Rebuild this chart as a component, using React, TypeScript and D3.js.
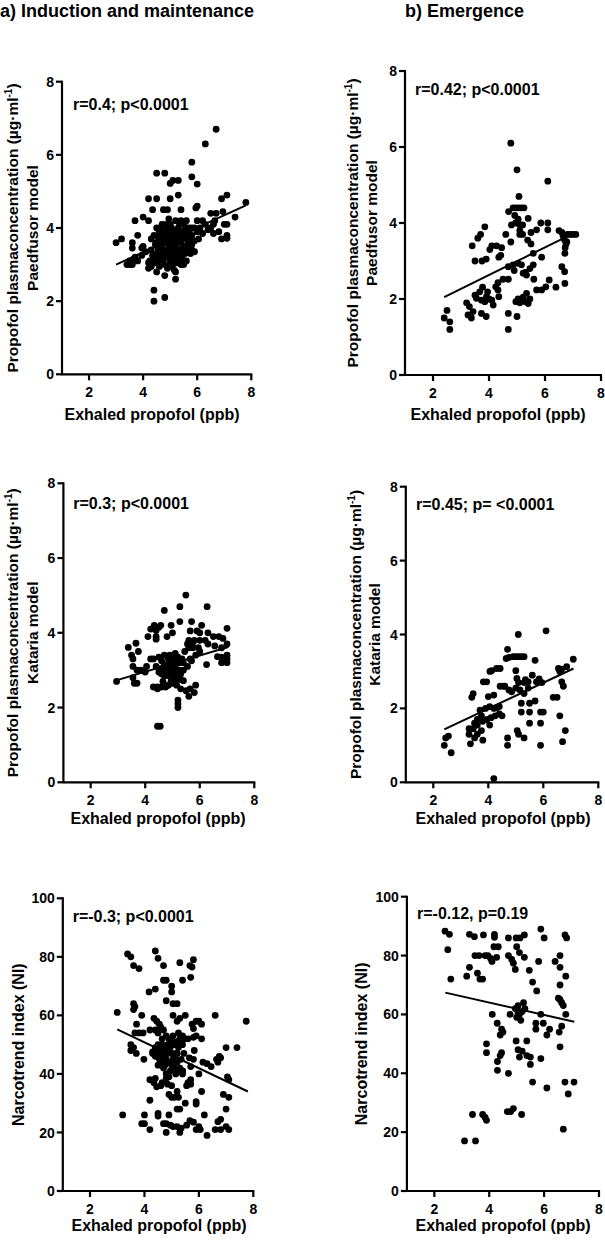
import React from 'react';
import * as d3 from 'd3';

// exhaled propofol (ppb) vs. plasma concentration / narcotrend index
const inductionPaedfusor = [
  [3.0, 3.6], [3.2, 3.7], [3.7, 4.2], [4.0, 4.3], [3.8, 3.8], [3.6, 3.6], [3.6, 3.45], [3.95, 3.45], [4.0, 3.5],
  [4.2, 4.8], [4.5, 4.8], [4.5, 5.5], [4.8, 5.5], [5.0, 5.22], [5.1, 5.3], [5.3, 5.3], [5.0, 4.8], [5.3, 4.9],
  [5.8, 5.8], [5.8, 5.4], [6.0, 5.2], [6.3, 6.3], [6.7, 6.7], [6.0, 4.6], [5.95, 4.55], [4.35, 4.5], [4.75, 4.5],
  [4.9, 4.5], [5.4, 4.5], [4.2, 4.2], [6.9, 4.8], [7.1, 4.9], [7.8, 4.7], [7.4, 4.3], [7.1, 4.1], [7.0, 4.1],
  [6.9, 3.7], [7.1, 3.8], [7.1, 3.72], [6.8, 3.9], [6.6, 4.1], [6.65, 4.2], [6.5, 4.4], [6.7, 4.4], [6.95, 4.45],
  [6.2, 4.2], [6.2, 3.85], [6.5, 4.0], [4.4, 2.3], [4.4, 2.0], [4.8, 2.1], [5.2, 2.6], [5.2, 2.8], [4.5, 2.8],
  [4.8, 2.7], [4.2, 2.9], [4.3, 2.95], [3.4, 3.0], [3.5, 3.0], [3.6, 3.0], [3.5, 3.1], [3.7, 3.2], [3.8, 3.1],
  [3.65, 3.15], [3.95, 3.25], [4.1, 3.35], [4.2, 3.05], [4.25, 3.1], [5.5, 3.0], [5.6, 3.1], [5.75, 3.3],
  [5.8, 3.4], [5.4, 3.0], [5.6, 3.4], [5.8, 3.55], [5.9, 3.35], [4.4, 3.2], [4.5, 3.3], [4.6, 3.1], [4.6, 3.5],
  [4.7, 3.3], [4.7, 3.7], [4.8, 3.0], [4.8, 3.4], [4.8, 3.9], [4.9, 3.2], [4.9, 3.6], [4.9, 4.0], [5.0, 3.1],
  [5.0, 3.5], [5.0, 3.8], [5.0, 4.1], [5.1, 3.0], [5.1, 3.3], [5.1, 3.7], [5.1, 3.95], [5.2, 3.2], [5.2, 3.5],
  [5.2, 3.9], [5.2, 4.2], [5.3, 3.1], [5.3, 3.4], [5.3, 3.8], [5.3, 4.0], [5.4, 3.3], [5.4, 3.6], [5.4, 3.9],
  [5.5, 3.5], [5.5, 3.8], [5.5, 4.1], [5.6, 3.7], [5.6, 4.0], [5.7, 3.9], [5.7, 4.0], [5.8, 3.8], [5.8, 4.0],
  [5.9, 4.0], [6.0, 3.9], [6.1, 4.0], [6.0, 4.2], [4.5, 3.6], [4.5, 4.0], [4.6, 3.9], [4.7, 4.1], [4.4, 3.8],
  [4.3, 3.4], [4.3, 3.7], [4.6, 2.95], [4.9, 2.9], [5.0, 2.95], [5.1, 3.6], [4.8, 3.6], [4.7, 3.45], [5.2, 3.65],
  [5.4, 4.2], [5.6, 4.2], [4.95, 4.25], [4.85, 4.1], [5.25, 3.35], [5.45, 3.15], [4.55, 3.45], [5.15, 2.85],
  [6.3, 4.1], [6.4, 3.95], [6.6, 3.85], [5.9, 3.65], [6.05, 3.7],
  [4.45, 3.05], [4.55, 3.15], [4.65, 3.25], [4.75, 3.15], [4.85, 3.25], [4.95, 3.35], [5.05, 3.25], [5.15, 3.15],
  [5.25, 3.05], [5.35, 3.25], [5.45, 3.45], [5.55, 3.3], [5.65, 3.55], [4.45, 3.55], [4.55, 3.75], [4.65, 3.65],
  [4.75, 3.85], [4.85, 3.75], [4.95, 3.85], [5.05, 3.65], [5.15, 3.85], [5.25, 3.75], [5.35, 3.65], [5.45, 3.75],
  [5.55, 3.95], [5.65, 3.85], [4.65, 4.0], [5.05, 4.0], [5.35, 4.1], [4.35, 3.25], [5.75, 3.7], [4.95, 3.45],
  [5.15, 3.45],
];
const inductionPaedfusorFit = [[3.0, 3.0], [7.8, 4.62]];

const emergencePaedfusor = [
  [4.78, 6.1], [5.0, 5.4], [6.1, 5.1], [5.07, 4.7], [4.7, 4.3], [4.86, 4.4], [4.95, 4.4], [5.05, 4.4], [5.15, 4.4],
  [5.25, 4.4], [4.92, 4.2], [5.04, 4.1], [5.4, 4.12], [4.8, 3.95], [4.95, 4.0], [5.1, 3.95], [3.85, 3.9], [5.85, 4.0],
  [6.1, 4.0], [6.1, 3.82], [5.7, 3.82], [5.5, 3.75], [5.38, 3.55], [5.2, 3.7], [5.1, 3.8], [5.1, 3.7], [4.6, 3.7],
  [4.78, 3.5], [3.7, 3.7], [3.6, 3.6], [3.4, 3.4], [4.1, 3.4], [4.27, 3.4], [4.45, 3.35], [4.03, 3.3], [4.35, 3.1],
  [4.42, 3.15], [3.5, 3.0], [3.75, 3.0], [3.9, 3.05], [5.58, 3.2], [5.88, 3.1], [6.5, 3.8], [6.6, 3.75],
  [6.65, 3.65], [6.7, 3.55], [6.75, 3.45], [6.72, 3.35], [6.71, 3.2], [6.8, 3.7], [6.9, 3.7], [7.0, 3.7],
  [7.1, 3.7], [6.78, 3.5], [6.6, 2.85], [6.7, 2.72], [6.71, 2.41], [6.39, 2.31], [6.03, 2.32], [6.15, 2.5],
  [5.7, 2.24], [5.88, 2.24], [5.6, 2.52], [5.34, 2.63], [5.46, 2.8], [5.58, 2.9], [5.22, 2.68], [5.16, 2.9],
  [5.04, 2.94], [4.86, 2.9], [4.69, 2.85], [4.69, 2.52], [4.5, 2.52], [4.32, 2.43], [4.24, 2.32], [4.32, 2.24],
  [3.95, 2.19], [3.91, 2.06], [3.77, 2.31], [3.67, 2.19], [3.5, 2.1], [3.55, 2.02], [3.73, 1.97], [3.85, 1.93],
  [4.15, 1.84], [4.1, 1.97], [3.2, 1.9], [3.3, 1.8], [3.43, 1.67], [3.25, 1.58], [3.37, 1.5], [3.73, 1.62],
  [3.9, 1.54], [4.69, 1.62], [5.0, 1.54], [4.69, 1.2], [2.4, 1.5], [2.5, 1.7], [2.6, 1.4], [2.6, 1.2],
  [4.96, 1.93], [5.04, 2.0], [5.1, 1.9], [5.22, 2.05], [5.34, 2.15], [5.46, 2.0], [5.3, 1.93], [5.4, 1.88],
  [4.35, 2.06], [4.0, 2.0], [5.3, 2.7], [5.5, 3.45], [5.2, 3.95], [4.9, 2.75],
];
const emergencePaedfusorFit = [[2.4, 2.05], [6.8, 3.65]];

const inductionKataria = [
  [5.49, 5.01], [5.27, 4.7], [6.27, 4.7], [4.7, 4.6], [5.27, 4.3], [5.7, 4.3], [4.33, 4.2], [4.57, 4.2], [4.4, 4.06],
  [4.95, 4.2], [5.0, 4.0], [4.1, 3.9], [4.4, 3.9], [4.4, 3.83], [4.8, 3.9], [5.65, 4.05], [5.9, 4.05], [6.0, 4.0],
  [6.07, 4.2], [5.6, 3.8], [5.8, 3.8], [6.0, 3.8], [6.2, 3.8], [6.3, 4.0], [6.5, 3.9], [6.7, 3.9], [6.85, 3.85],
  [7.0, 4.12], [3.38, 3.61], [3.66, 3.72], [3.75, 3.5], [5.6, 3.6], [5.75, 3.6], [5.95, 3.6], [6.3, 3.7],
  [6.55, 3.65], [6.8, 3.6], [7.0, 3.7], [7.0, 3.4], [6.8, 3.35], [7.0, 3.3], [6.8, 3.2], [7.0, 3.2], [6.65, 3.36],
  [3.5, 3.4], [3.55, 3.3], [4.3, 3.3], [4.5, 3.35], [4.6, 3.25], [4.7, 3.15], [4.8, 3.1], [4.9, 3.05], [5.0, 3.15],
  [5.1, 3.25], [5.2, 3.35], [5.25, 3.2], [5.0, 2.95], [5.15, 2.9], [4.85, 2.85], [5.05, 2.8], [4.7, 3.4],
  [4.9, 3.4], [5.1, 3.45], [3.55, 3.1], [3.7, 3.0], [3.85, 3.0], [4.0, 2.95], [4.5, 2.95], [4.05, 3.1], [4.2, 3.3],
  [2.95, 2.7], [3.55, 2.8], [3.6, 2.65], [3.7, 2.65], [4.3, 2.55], [4.45, 2.55], [4.6, 2.55], [4.75, 2.55],
  [4.85, 2.6], [5.0, 2.65], [5.0, 2.75], [5.15, 2.75], [5.3, 2.75], [5.4, 2.72], [5.3, 2.5], [5.5, 2.45],
  [5.65, 2.5], [5.85, 2.6], [5.6, 2.3], [5.8, 2.4], [5.2, 2.2], [5.2, 2.1], [5.2, 2.0], [4.45, 1.5], [4.55, 1.5],
  [5.4, 3.0], [5.55, 3.1], [5.7, 3.25], [5.85, 3.4], [6.0, 3.5], [5.65, 3.3], [5.45, 3.5], [5.55, 3.7],
  [5.75, 3.75], [4.2, 4.1], [4.5, 4.15], [5.4, 3.2], [6.25, 3.15], [4.45, 2.5],
  [4.6, 2.9], [4.7, 2.85], [4.8, 2.95], [4.9, 3.2], [5.0, 3.3], [5.1, 3.1], [4.75, 3.0], [5.1, 2.95],
  [4.95, 2.7], [4.65, 2.7], [5.25, 3.0], [5.35, 3.3], [4.85, 3.3], [4.4, 3.1], [4.6, 3.05], [5.15, 2.6], [5.3, 2.9],
];
const inductionKatariaFit = [[3.0, 2.74], [7.05, 3.62]];

const emergenceKataria = [
  [6.1, 4.1], [5.09, 4.0], [4.7, 3.6], [4.65, 3.35], [4.75, 3.38], [4.9, 3.4], [5.0, 3.4], [5.1, 3.4], [5.2, 3.4],
  [5.3, 3.4], [5.7, 3.3], [4.12, 3.02], [4.3, 3.08], [4.43, 3.08], [4.06, 3.0], [5.0, 3.02], [5.04, 2.81],
  [5.35, 2.78], [5.45, 2.72], [5.75, 2.72], [5.85, 2.8], [5.95, 2.7], [3.82, 2.72], [3.94, 2.72], [4.43, 2.6],
  [4.55, 2.6], [6.55, 3.08], [6.67, 3.06], [6.85, 3.13], [7.09, 3.33], [6.6, 3.0], [6.67, 2.72], [6.73, 2.6],
  [6.36, 2.3], [4.75, 2.5], [4.85, 2.45], [5.0, 2.55], [5.15, 2.5], [5.3, 2.4], [5.45, 2.55], [3.4, 2.3],
  [3.45, 2.4], [5.2, 2.14], [5.5, 2.14], [5.7, 2.2], [5.2, 1.9], [5.5, 1.9], [5.9, 1.9], [6.6, 1.8], [5.9, 1.6],
  [5.5, 1.6], [6.8, 1.4], [6.7, 1.1], [5.9, 1.0], [3.7, 1.95], [3.9, 2.0], [4.05, 2.05], [4.2, 2.0], [4.3, 2.02],
  [4.4, 2.05], [4.0, 2.32], [4.2, 2.36], [3.3, 1.45], [3.45, 1.45], [3.6, 1.55], [3.8, 1.65], [3.95, 1.7],
  [4.1, 1.75], [4.25, 1.8], [4.4, 1.85], [3.3, 1.3], [3.6, 1.3], [3.75, 1.4], [3.5, 1.6], [3.6, 1.7], [3.75, 1.8],
  [2.45, 1.2], [2.55, 1.25], [2.4, 1.0], [2.65, 0.8], [3.35, 1.04], [3.8, 1.14], [4.7, 1.2], [4.7, 1.0],
  [5.05, 1.4], [5.1, 1.3], [5.3, 1.2], [4.2, 0.1], [4.6, 2.6], [5.1, 2.7], [5.6, 2.9], [5.3, 2.7], [6.5, 2.3],
  [6.0, 1.9], [4.05, 1.55], [4.5, 1.8], [3.5, 1.2],
];
const emergenceKatariaFit = [[2.4, 1.43], [7.1, 3.08]];

const inductionNarcotrend = [
  [3.0, 61], [3.2, 26], [3.38, 81], [3.5, 80], [3.6, 77], [3.8, 76], [3.6, 64], [3.65, 63], [3.6, 62], [3.71, 57],
  [3.9, 60], [3.65, 54], [3.8, 54], [3.95, 54], [3.5, 50], [3.6, 49], [3.5, 48], [3.7, 47], [3.98, 45], [3.9, 23],
  [4.0, 23], [4.0, 26], [4.2, 21], [4.2, 31], [4.17, 68], [4.4, 69], [4.4, 82], [4.5, 79.5], [4.7, 77], [4.7, 72],
  [4.8, 72], [5.0, 70], [5.0, 68], [4.8, 65], [5.05, 64], [5.2, 64], [5.3, 78], [5.67, 77], [5.75, 76.5], [5.8, 79],
  [5.7, 73], [5.4, 72], [4.35, 59], [4.45, 58], [4.55, 57], [5.05, 60], [5.2, 58], [5.3, 59], [5.5, 60], [5.75, 57],
  [5.8, 55.5], [5.9, 58], [6.0, 58], [6.1, 57], [6.6, 60], [6.1, 52], [7.74, 58], [7.4, 49], [7.0, 49], [6.7, 44],
  [6.75, 46], [6.65, 45], [6.8, 45.5], [6.45, 42.5], [6.3, 43.5], [6.15, 44], [7.05, 39], [7.1, 38], [6.9, 33],
  [7.1, 32], [7.0, 28], [6.8, 24.5], [6.7, 23.7], [6.6, 21], [6.8, 21], [7.0, 22], [7.1, 21], [6.3, 19], [6.2, 26],
  [5.9, 30.5], [5.9, 29.7], [6.1, 34], [5.5, 30], [5.3, 28], [5.2, 28], [5.67, 24], [5.8, 23.5], [5.55, 22.5],
  [6.0, 22], [6.05, 21], [5.9, 21], [5.3, 20], [5.35, 21.5], [5.2, 22], [4.8, 20], [4.7, 23], [4.8, 23],
  [4.95, 22.5], [5.05, 22], [4.5, 26.5], [4.5, 25.6], [4.9, 26], [4.65, 37], [4.8, 38.5], [4.45, 35.6], [4.2, 38],
  [4.35, 37], [4.4, 38.5], [4.9, 33], [5.0, 36], [5.1, 32], [5.0, 32], [5.2, 34], [5.25, 32], [5.55, 36],
  [5.7, 38], [5.7, 36.5], [5.4, 40], [5.4, 41], [4.4, 55], [4.5, 54], [4.6, 56], [4.7, 55], [4.8, 53], [4.9, 52],
  [5.0, 51], [5.1, 50], [5.2, 51], [5.3, 52], [5.4, 50], [5.5, 52], [4.5, 50], [4.6, 48], [4.7, 46], [4.8, 45],
  [4.9, 44], [5.0, 43], [5.1, 42], [5.2, 44], [5.3, 42], [5.4, 41], [4.6, 44], [4.7, 42], [4.8, 40], [4.9, 39],
  [5.0, 47], [5.2, 47], [4.4, 46], [4.3, 47], [4.5, 43], [5.9, 53], [5.8, 52.5], [5.6, 52], [5.35, 51.5],
  [5.4, 53], [5.83, 48], [5.65, 45.5], [5.8, 45], [5.7, 42.5], [6.0, 40], [5.6, 37], [4.2, 55], [4.3, 47.5],
  [4.6, 36], [4.85, 36.5],
  [4.5, 47], [4.65, 50], [4.75, 48], [4.85, 47], [4.95, 49], [5.05, 45], [5.15, 47], [5.25, 49], [5.35, 45],
  [4.55, 45], [4.75, 43], [4.95, 41], [5.15, 40], [5.25, 41], [4.65, 52], [5.05, 53], [5.25, 54], [4.85, 50],
  [5.45, 47], [4.4, 49],
];
const inductionNarcotrendFit = [[3.0, 55.2], [7.8, 34.0]];

const emergenceNarcotrend = [
  [2.39, 88.3], [2.55, 87.2], [2.49, 82], [2.6, 72], [3.28, 87.2], [3.46, 86.4], [3.79, 87], [4.19, 87.2],
  [4.19, 86.2], [4.7, 86], [4.98, 86], [5.12, 86], [5.28, 87], [5.88, 89], [6.0, 86], [6.76, 87], [6.82, 86],
  [3.28, 76], [3.18, 73], [3.57, 74], [3.66, 72], [3.76, 72], [3.48, 80], [3.63, 80], [3.85, 80], [3.95, 80],
  [4.05, 79], [4.1, 78], [4.17, 83], [4.33, 83], [4.27, 79.4], [4.7, 80], [4.82, 78.7], [4.88, 77.4], [4.95, 75.3],
  [5.0, 83], [5.1, 81], [5.28, 79.4], [5.46, 75], [5.58, 71], [5.8, 78], [5.73, 68], [6.58, 80], [6.4, 78],
  [6.58, 76], [6.79, 73], [6.58, 70], [6.52, 65.5], [6.58, 65], [6.64, 64], [6.7, 63], [6.79, 60], [6.64, 56],
  [6.55, 54], [6.58, 49], [5.88, 60], [5.7, 57], [5.97, 57], [6.1, 53], [6.2, 55], [5.7, 55], [4.95, 62],
  [5.05, 63], [5.1, 60], [5.2, 61], [5.25, 64], [5.0, 59], [5.15, 58], [5.3, 62], [5.05, 60.5], [4.76, 60],
  [4.11, 60], [4.29, 57], [4.45, 55], [4.5, 54], [4.4, 53], [3.9, 50], [3.9, 47], [4.98, 51], [5.37, 51],
  [5.05, 48], [5.2, 47.5], [5.37, 46], [5.5, 45.5], [5.1, 45.5], [4.45, 47], [4.4, 46], [4.3, 44], [4.3, 41],
  [4.7, 40], [5.5, 43], [5.58, 37], [6.1, 35], [5.88, 45], [6.76, 37], [7.09, 37], [6.88, 33], [6.7, 21],
  [3.39, 26], [3.76, 26], [3.85, 25], [3.9, 24], [3.1, 17], [3.5, 17], [4.66, 27], [4.78, 27], [4.88, 28],
  [5.18, 26],
];
const emergenceNarcotrendFit = [[2.4, 67.4], [7.1, 57.5]];

const xTicks = [2, 4, 6, 8];
const concTicks = [0, 2, 4, 6, 8];
const niTicks = [0, 20, 40, 60, 80, 100];

const titles = ['a) Induction and maintenance', 'b) Emergence'];
const xLabel = 'Exhaled propofol (ppb)';
const concLabel = 'Propofol plasmaconcentration (µg·ml';
const paedfusorLabel = 'Paedfusor model';
const katariaLabel = 'Kataria model';
const niLabel = 'Narcotrend index (NI)';
const stats = [
  'r=0.4; p<0.0001', 'r=0.42; p<0.0001',
  'r=0.3; p<0.0001', 'r=0.45; p= <0.0001',
  'r=-0.3; p<0.0001', 'r=-0.12, p=0.19',
];

const FONT = '"Liberation Sans", Arial, Helvetica, sans-serif';

const panels = [
  { data: inductionPaedfusor, fit: inductionPaedfusorFit, yMax: 8, yTicks: concTicks, sub: paedfusorLabel, stat: stats[0],
    xr: [62, 251.3], yr: [374.3, 81.7], lab: [18.4, 37.8], st: [73, 110], xl: [152, 420] },
  { data: emergencePaedfusor, fit: emergencePaedfusorFit, yMax: 8, yTicks: concTicks, sub: paedfusorLabel, stat: stats[1],
    xr: [405, 601], yr: [375, 71], lab: [357.8, 376.8], st: [415, 95], xl: [498, 420] },
  { data: inductionKataria, fit: inductionKatariaFit, yMax: 8, yTicks: concTicks, sub: katariaLabel, stat: stats[2],
    xr: [63.4, 254.3], yr: [782.3, 483.3], lab: [17.8, 37.8], st: [73.3, 508.5], xl: [158, 824] },
  { data: emergenceKataria, fit: emergenceKatariaFit, yMax: 8, yTicks: concTicks, sub: katariaLabel, stat: stats[3],
    xr: [405.8, 598.3], yr: [782.3, 486.7], lab: [361, 379.5], st: [416, 510], xl: [503, 824] },
  { data: inductionNarcotrend, fit: inductionNarcotrendFit, yMax: 100, yTicks: niTicks, sub: null, stat: stats[4],
    xr: [62.8, 253.3], yr: [1191, 898.3], lab: [23.5], st: [72.7, 921.7], xl: [159, 1231] },
  { data: emergenceNarcotrend, fit: emergenceNarcotrendFit, yMax: 100, yTicks: niTicks, sub: null, stat: stats[5],
    xr: [406.9, 599], yr: [1191, 896.7], lab: [366.5], st: [417, 919], xl: [503, 1231] },
];

const Panel = ({ p }) => {
  const x = d3.scaleLinear().domain([1, 8]).range(p.xr);
  const y = d3.scaleLinear().domain([0, p.yMax]).range(p.yr);
  const line = d3.line().x(d => x(d[0])).y(d => y(d[1]));
  const x0 = x(1);
  const y0 = y(0);
  const yMid = (p.yr[0] + p.yr[1]) / 2;

  return (
    <g>
      {p.data.map((d, i) => (
        <circle key={i} cx={x(d[0])} cy={y(d[1])} r={3.4} fill="#000" />
      ))}
      <path d={line(p.fit)} stroke="#000" strokeWidth={2} fill="none" />

      {/* axes */}
      <line x1={x0} x2={x(8) + 1} y1={y0} y2={y0} stroke="#000" strokeWidth={2.2} />
      <line x1={x0} x2={x0} y1={y0 + 1} y2={y(p.yMax) - 1} stroke="#000" strokeWidth={2.2} />
      {xTicks.map(t => (
        <g key={'x' + t}>
          <line x1={x(t)} x2={x(t)} y1={y0} y2={y0 + 6} stroke="#000" strokeWidth={2.2} />
          <text x={x(t)} y={y0 + 23} textAnchor="middle" fontSize={14} fontWeight="bold">{t}</text>
        </g>
      ))}
      {p.yTicks.map(t => (
        <g key={'y' + t}>
          <line x1={x0 - 6} x2={x0} y1={y(t)} y2={y(t)} stroke="#000" strokeWidth={2.2} />
          <text x={x0 - 8} y={y(t)} dy="0.36em" textAnchor="end" fontSize={14} fontWeight="bold">{t}</text>
        </g>
      ))}

      <text x={p.st[0]} y={p.st[1]} fontSize={16} fontWeight="bold">{p.stat}</text>
      <text x={p.xl[0]} y={p.xl[1]} textAnchor="middle" fontSize={16} fontWeight="bold">{xLabel}</text>

      {p.sub ? (
        <g>
          <text transform={`translate(${p.lab[0]},${yMid}) rotate(-90)`} textAnchor="middle" fontSize={15.5} fontWeight="bold">
            {concLabel}
            <tspan dy={-6} fontSize={10}>-1</tspan>
            <tspan dy={6}>)</tspan>
          </text>
          <text transform={`translate(${p.lab[1]},${yMid}) rotate(-90)`} textAnchor="middle" fontSize={15.5} fontWeight="bold">
            {p.sub}
          </text>
        </g>
      ) : (
        <text transform={`translate(${p.lab[0]},${yMid}) rotate(-90)`} textAnchor="middle" fontSize={16} fontWeight="bold">
          {niLabel}
        </text>
      )}
    </g>
  );
};

export default function App() {
  return (
    <svg width={605} height={1241} style={{ position: 'absolute', left: 0, top: 0, background: '#fff' }}
      fontFamily={FONT}>
      <rect width={605} height={1241} fill="#fff" />
      <text x={0} y={17} fontSize={18} fontWeight="bold">{titles[0]}</text>
      <text x={405} y={17} fontSize={18} fontWeight="bold">{titles[1]}</text>
      {panels.map((p, i) => <Panel key={i} p={p} />)}
    </svg>
  );
}
